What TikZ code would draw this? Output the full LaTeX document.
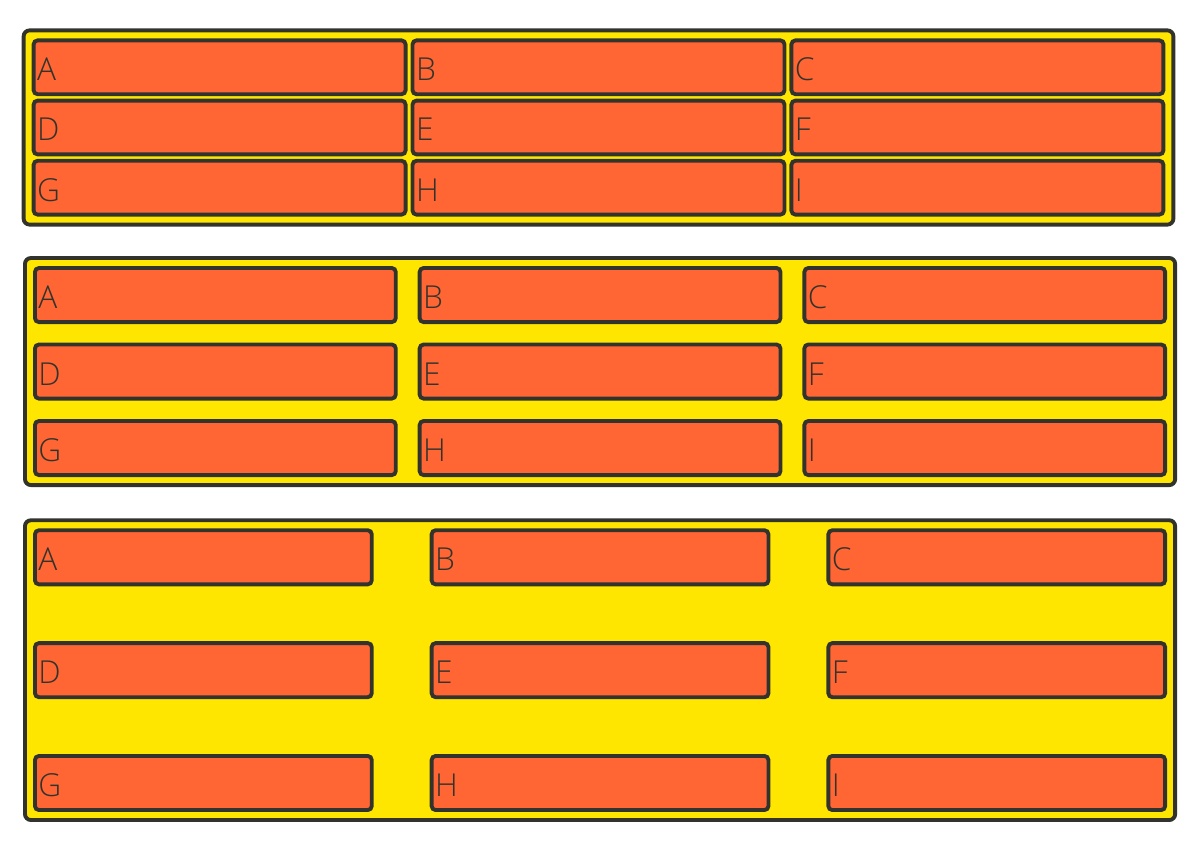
\documentclass[tikz,border=0pt]{standalone}
\usepackage{fontspec}
\setmainfont{Open Sans Light}
\usetikzlibrary{positioning, fit, backgrounds}
\definecolor{GridYellow}{HTML}{FFE600}
\definecolor{GridOrange}{HTML}{FF6633}
\definecolor{GridInk}{HTML}{33332E}
\tikzset{
    % Grid container style
    container/.style={
        rectangle,
        draw=GridInk,
        fill=GridYellow,
        line width=2.2pt,
        rounded corners=0.12cm,
        inner sep=0.2cm
    },
    % Grid item style
    gridcell/.style={
        rectangle,
        draw=GridInk,
        fill=GridOrange,
        line width=2.2pt,
        rounded corners=0.08cm,
        outer sep=0pt,
        inner xsep=0.07cm,
        inner ysep=0pt,
        text height=0.54cm,
        text depth=0pt,
        align=left,
        text=GridInk,
        font=\fontsize{18}{18}\selectfont
    },
    % Item sizes for each gap
    cellone/.style={gridcell, text width=7.30cm, minimum height=1.076cm},
    celltwo/.style={gridcell, text width=7.076cm, minimum height=1.082cm},
    cellthree/.style={gridcell, text width=6.596cm, minimum height=1.082cm}
}
\begin{document}
\begin{tikzpicture}
    \useasboundingbox (0,0) rectangle (24,-16.98);

    % No gap
    \begin{scope}[node distance=0.128cm and 0.138cm]
        \node (a1) [cellone, anchor=north west] at (0.672,-0.808) {A};
        \node (b1) [cellone, right=of a1] {B};
        \node (c1) [cellone, right=of b1] {C};
        \node (d1) [cellone, below=of a1] {D};
        \node (e1) [cellone, right=of d1] {E};
        \node (f1) [cellone, right=of e1] {F};
        \node (g1) [cellone, below=of d1] {G};
        \node (h1) [cellone, right=of g1] {H};
        \node (i1) [cellone, right=of h1] {I};
    \end{scope}

    % Small gap
    \begin{scope}[node distance=0.448cm and 0.478cm]
        \node (a2) [celltwo, anchor=north west] at (0.699,-5.36) {A};
        \node (b2) [celltwo, right=of a2] {B};
        \node (c2) [celltwo, right=of b2] {C};
        \node (d2) [celltwo, below=of a2] {D};
        \node (e2) [celltwo, right=of d2] {E};
        \node (f2) [celltwo, right=of e2] {F};
        \node (g2) [celltwo, below=of d2] {G};
        \node (h2) [celltwo, right=of g2] {H};
        \node (i2) [celltwo, right=of h2] {I};
    \end{scope}

    % Large gap
    \begin{scope}[node distance=1.175cm and 1.198cm]
        \node (a3) [cellthree, anchor=north west] at (0.699,-10.605) {A};
        \node (b3) [cellthree, right=of a3] {B};
        \node (c3) [cellthree, right=of b3] {C};
        \node (d3) [cellthree, below=of a3] {D};
        \node (e3) [cellthree, right=of d3] {E};
        \node (f3) [cellthree, right=of e3] {F};
        \node (g3) [cellthree, below=of d3] {G};
        \node (h3) [cellthree, right=of g3] {H};
        \node (i3) [cellthree, right=of h3] {I};
    \end{scope}

    % Containers
    \begin{scope}[on background layer]
        \node (grid1) [container, fit=(a1)(i1)] {};
        \node (grid2) [container, fit=(a2)(i2)] {};
        \node (grid3) [container, fit=(a3)(i3)] {};
    \end{scope}
\end{tikzpicture}
\end{document}
